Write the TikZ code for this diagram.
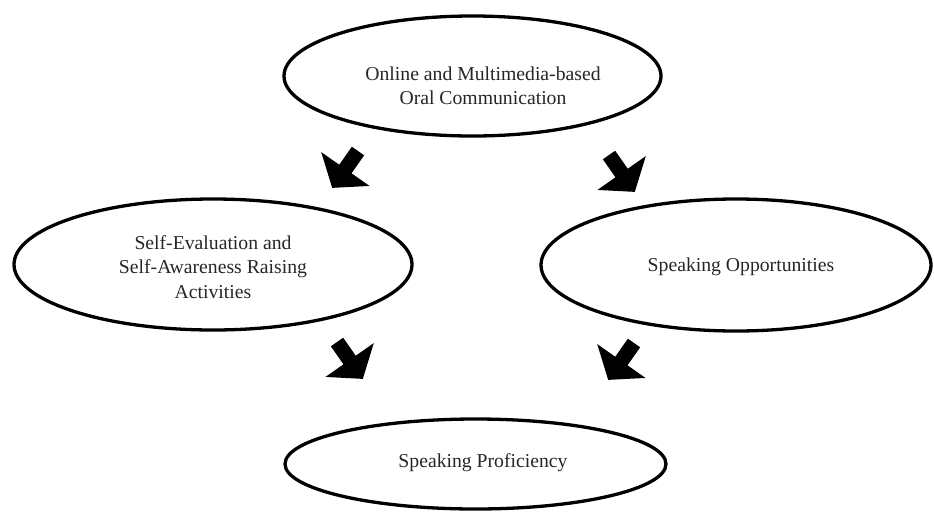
\documentclass[tikz,border=0pt]{standalone}
\usepackage{fontspec}
\setmainfont{Liberation Serif}
\usetikzlibrary{shapes.geometric}
\tikzset{
  oval/.style={ellipse, draw=black, line width=3.3pt, inner sep=0pt},
  lbl/.style={font=\fontsize{19.7}{24.5}\selectfont, align=center, text=black!85, inner sep=0pt},
  blockarrow/.pic={
    \fill[black] (0pt,-7.5pt) -- (22pt,-7.5pt) -- (22pt,-29.5pt) -- (45pt,0pt)
      -- (22pt,29.5pt) -- (22pt,7.5pt) -- (0pt,7.5pt) -- cycle;
  }
}
\begin{document}
\begin{tikzpicture}[x=1pt,y=-1pt]
\useasboundingbox (0,0) rectangle (934,512);
% ellipses
\node[oval, minimum width=377pt, minimum height=120pt] (top) at (472.5,76) {};
\node[oval, minimum width=398pt, minimum height=131pt] (left) at (213,264.5) {};
\node[oval, minimum width=390pt, minimum height=132pt] (right) at (736,265) {};
\node[oval, minimum width=381pt, minimum height=90pt] (bottom) at (475.5,464) {};
% texts
\node[lbl] (toptext) at (483,86) {Online and Multimedia-based\\Oral Communication};
\node[lbl] (lefttext) at (213,267) {Self-Evaluation and\\Self-Awareness Raising\\Activities};
\node[lbl] (righttext) at (741,267) {Speaking Opportunities};
\node[lbl] (bottomtext) at (483,463) {Speaking Proficiency};
% block arrows
\coordinate (a1) at (358,151);
\coordinate (a2) at (609,155);
\coordinate (a3) at (337,342);
\coordinate (a4) at (634,343);
\pic[rotate=-125] at (a1) {blockarrow};
\pic[rotate=-55] at (a2) {blockarrow};
\pic[rotate=-55] at (a3) {blockarrow};
\pic[rotate=-125] at (a4) {blockarrow};
\end{tikzpicture}
\end{document}
